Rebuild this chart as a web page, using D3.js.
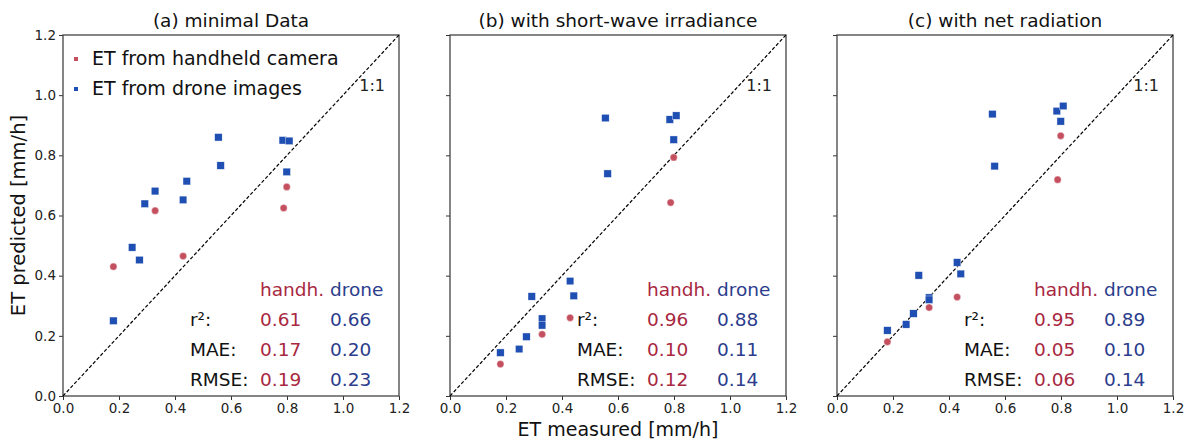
<!DOCTYPE html>
<html>
<head>
<meta charset="utf-8">
<script src="https://cdn.jsdelivr.net/npm/d3@7"></script>
<style>
  body { margin: 0; background: #fff; }
  svg { font-family: "DejaVu Sans", sans-serif; }
</style>
</head>
<body>
<div id="chart"></div>
<script>
// Panel titles
let titles = ["(a) minimal Data", "(b) with short-wave irradiance", "(c) with net radiation"];

// Measured ET (x) for each series
let handMeasured = [0.18, 0.329, 0.429, 0.788, 0.799];
let droneMeasured = [0.18, 0.247, 0.273, 0.292, 0.329, 0.329, 0.429, 0.442, 0.555, 0.563, 0.785, 0.808, 0.799];

// Predicted ET (y) per panel
let handPredA = [0.43, 0.616, 0.465, 0.625, 0.695];
let handPredB = [0.106, 0.205, 0.26, 0.643, 0.793];
let handPredC = [0.18, 0.294, 0.329, 0.719, 0.865];

let dronePredA = [0.25, 0.494, 0.452, 0.639, 0.681, 0.681, 0.652, 0.714, 0.86, 0.766, 0.85, 0.848, 0.745];
let dronePredB = [0.144, 0.156, 0.197, 0.331, 0.257, 0.235, 0.382, 0.333, 0.924, 0.739, 0.919, 0.932, 0.852];
let dronePredC = [0.218, 0.238, 0.274, 0.401, 0.327, 0.32, 0.444, 0.406, 0.937, 0.764, 0.947, 0.964, 0.913];

// Statistics
let statNames = ["r²:", "MAE:", "RMSE:"];
let handStats = [["0.61", "0.17", "0.19"], ["0.96", "0.10", "0.12"], ["0.95", "0.05", "0.06"]];
let droneStats = [["0.66", "0.20", "0.23"], ["0.88", "0.11", "0.14"], ["0.89", "0.10", "0.14"]];

let ticks = [0, 0.2, 0.4, 0.6, 0.8, 1.0, 1.2];

let handPred = [handPredA, handPredB, handPredC];
let dronePred = [dronePredA, dronePredB, dronePredC];

//Width and Height
let width = 1190;
let height = 443;
let panelLeft = [63, 450, 837];
let plotTop = 35;
let plotW = 336;
let plotH = 361;

//Colors
let handColor = "#c4505f";
let droneColor = "#1f4fb2";
let handText = "#a8283f";
let droneText = "#2b3d8c";

let svg = d3.select("#chart")
  .append("svg")
  .attr("width", width)
  .attr("height", height);

let x = d3.scaleLinear().domain([0, 1.2]).range([0, plotW]);
let y = d3.scaleLinear().domain([0, 1.2]).range([plotH, 0]);

titles.forEach(function(title, p) {

  let g = svg.append("g")
    .attr("transform", "translate(" + panelLeft[p] + "," + plotTop + ")");

  //Axes
  let xAxis = g.append("g")
    .attr("transform", "translate(0," + plotH + ")")
    .call(d3.axisBottom(x).tickValues(ticks).tickFormat(d3.format(".1f")).tickSize(4).tickPadding(3));

  let yAxis = g.append("g")
    .call(d3.axisLeft(y).tickValues(ticks).tickFormat(p == 0 ? d3.format(".1f") : "").tickSize(4).tickPadding(3));

  [xAxis, yAxis].forEach(function(a) {
    a.select(".domain").remove();
    a.selectAll("line").attr("stroke", "#333");
    a.selectAll("text")
      .attr("fill", "#222")
      .style("font-size", "13.5px")
      .style("font-family", "DejaVu Sans");
  });

  //Frame
  g.append("rect")
    .attr("width", plotW)
    .attr("height", plotH)
    .attr("fill", "none")
    .attr("stroke", "#444")
    .attr("stroke-width", 1.3);

  //1:1 line
  g.append("line")
    .attr("x1", x(0)).attr("y1", y(0))
    .attr("x2", x(1.2)).attr("y2", y(1.2))
    .attr("stroke", "#000")
    .attr("stroke-width", 1.2)
    .attr("stroke-dasharray", "3.5,2");

  g.append("text")
    .attr("x", x(1.15))
    .attr("y", y(1.0) - 4)
    .attr("text-anchor", "end")
    .style("font-size", "16px")
    .attr("fill", "#222")
    .text("1:1");

  //Drone squares
  let sq = 7.5;
  g.append("g")
    .selectAll("rect")
    .data(droneMeasured.map((d, i) => [d, dronePred[p][i]]))
    .enter()
    .append("rect")
    .attr("x", d => x(d[0]) - sq / 2)
    .attr("y", d => y(d[1]) - sq / 2)
    .attr("width", sq)
    .attr("height", sq)
    .attr("fill", droneColor)
    .attr("stroke", "#fff")
    .attr("stroke-width", 0.4);

  //Handheld circles
  g.append("g")
    .selectAll("circle")
    .data(handMeasured.map((d, i) => [d, handPred[p][i]]))
    .enter()
    .append("circle")
    .attr("cx", d => x(d[0]))
    .attr("cy", d => y(d[1]))
    .attr("r", 3.6)
    .attr("fill", handColor)
    .attr("stroke", "#fff")
    .attr("stroke-width", 0.4);

  //Title
  g.append("text")
    .attr("x", plotW / 2)
    .attr("y", -8)
    .attr("text-anchor", "middle")
    .style("font-size", "18.5px")
    .attr("fill", "#111")
    .text(title);

  //Stats table
  let stats = g.append("g").style("font-size", "18.5px");
  stats.append("text").attr("x", 197).attr("y", 261).attr("fill", handText).text("handh.");
  stats.append("text").attr("x", 267).attr("y", 261).attr("fill", droneText).text("drone");
  statNames.forEach(function(name, r) {
    let yy = 291 + r * 30;
    stats.append("text").attr("x", 127).attr("y", yy).attr("fill", "#111").text(name);
    stats.append("text").attr("x", 197).attr("y", yy).attr("fill", handText).text(handStats[p][r]);
    stats.append("text").attr("x", 267).attr("y", yy).attr("fill", droneText).text(droneStats[p][r]);
  });

  //Legend
  if (p == 0) {
    let legend = [["ET from handheld camera", handColor], ["ET from drone images", droneColor]];
    legend.forEach(function(l, i) {
      g.append("rect")
        .attr("x", 11)
        .attr("y", 22 + i * 30)
        .attr("width", 4)
        .attr("height", 4)
        .attr("fill", l[1]);
      g.append("text")
        .attr("x", 29)
        .attr("y", 30 + i * 30)
        .style("font-size", "19px")
        .attr("fill", "#111")
        .text(l[0]);
    });
  }
});

//Axis labels
svg.append("text")
  .attr("x", panelLeft[1] + plotW / 2)
  .attr("y", 436)
  .attr("text-anchor", "middle")
  .style("font-size", "19px")
  .attr("fill", "#111")
  .text("ET measured [mm/h]");

svg.append("text")
  .attr("transform", "translate(25," + (plotTop + plotH / 2) + ") rotate(-90)")
  .attr("text-anchor", "middle")
  .style("font-size", "19.5px")
  .attr("fill", "#111")
  .text("ET predicted [mm/h]");
</script>
</body>
</html>
